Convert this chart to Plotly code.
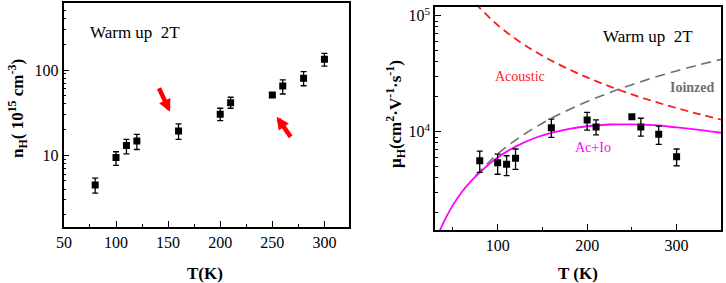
import plotly.graph_objects as go
import math

# ---------------- data ----------------
# left panel: Hall carrier density
T_n = [80, 100, 110, 120, 160, 200, 210, 250, 260, 280, 300]
n_H = [4.5, 9.4, 13.0, 14.7, 19.3, 30.3, 41.4, 50.9, 64.9, 80.0, 133.5]
n_err_plus = [0.9, 1.6, 2.4, 2.9, 4.0, 5.3, 6.5, 2.0, 11.5, 15.5, 23.5]
n_err_minus = [0.9, 1.8, 2.6, 3.0, 3.9, 4.8, 5.8, 2.0, 12.6, 14.6, 22.5]

# right panel: Hall mobility
T_mu = [80, 100, 110, 120, 160, 200, 210, 250, 260, 280, 300]
mu_H = [5620, 5400, 5240, 5900, 10800, 12600, 11000, 13500, 11000, 9500, 6100]
mu_err_plus = [1200, 1020, 970, 1200, 2050, 2100, 1640, 300, 2070, 1700, 1000]
mu_err_minus = [1150, 1100, 1060, 1160, 1850, 2260, 1610, 300, 1820, 1720, 1010]

# model curves
T_ac = [75, 100, 125, 150, 175, 200, 225, 250, 275, 300, 325, 350]
mu_ac = [128000, 83000, 59500, 45200, 35900, 29400, 24600, 21000, 18200, 16000, 14200, 12700]

T_io = [75, 90, 100, 125, 150, 175, 200, 225, 250, 275, 300, 325, 350]
mu_io = [4150, 5450, 6450, 9000, 11850, 14900, 18200, 21700, 25450, 29400, 33450, 37700, 42150]

T_tot = [35, 40, 50, 60, 70, 80, 90, 100, 120, 140, 160, 180, 200, 225, 250, 275, 300, 325, 350]
mu_tot = [1380, 1680, 2330, 3020, 3740, 4450, 5220, 6000, 7450, 8750, 9800, 10600, 11150,
          11550, 11580, 11400, 10900, 10380, 9800]

# arrows in left panel (tail -> head), data units
arrow_tail_T = [140.6, 268.6]
arrow_tail_n = [63.7, 15.8]
arrow_head_T = [151.8, 254.2]
arrow_head_n = [32.4, 28.3]

# tick labels
left_y_ticks = [10, 100]
left_y_ticktext = ["10", "100"]
right_y_ticks = [1e4, 1e5]
right_y_ticktext = ["10<sup>4</sup>", "10<sup>5</sup>"]

FONT = "Liberation Serif"

fig = go.Figure()

# left panel markers
fig.add_trace(go.Scatter(
    x=T_n, y=n_H, mode="markers", xaxis="x", yaxis="y",
    marker=dict(symbol="square", size=7, color="black"),
    error_y=dict(type="data", symmetric=False, array=n_err_plus, arrayminus=n_err_minus,
                 color="black", thickness=1.3, width=3),
    showlegend=False))

# right panel curves
fig.add_trace(go.Scatter(x=T_ac, y=mu_ac, mode="lines", xaxis="x2", yaxis="y2",
                         line=dict(color="#ff1a1a", width=1.8, dash="8px,5px", shape="spline"),
                         showlegend=False))
fig.add_trace(go.Scatter(x=T_io, y=mu_io, mode="lines", xaxis="x2", yaxis="y2",
                         line=dict(color="#707070", width=1.6, dash="10px,6px", shape="spline"),
                         showlegend=False))
fig.add_trace(go.Scatter(x=T_tot, y=mu_tot, mode="lines", xaxis="x2", yaxis="y2",
                         line=dict(color="#ff00ff", width=1.8, shape="spline"),
                         showlegend=False))
fig.add_trace(go.Scatter(
    x=T_mu, y=mu_H, mode="markers", xaxis="x2", yaxis="y2",
    marker=dict(symbol="square", size=7, color="black"),
    error_y=dict(type="data", symmetric=False, array=mu_err_plus, arrayminus=mu_err_minus,
                 color="black", thickness=1.3, width=3),
    showlegend=False))

W, H = 726, 283

axis_common = dict(showline=True, linecolor="black", linewidth=1.5, mirror=True,
                   ticks="inside", ticklen=6, tickwidth=1.3, tickcolor="black",
                   showgrid=False, zeroline=False, automargin=False,
                   tickfont=dict(family=FONT, size=16, color="black"))

left_minor = [d * 10 ** k for k in range(0, 3) for d in range(2, 10)]
right_minor = [d * 10 ** k for k in range(3, 5) for d in range(2, 10)]

fig.update_layout(
    width=W, height=H, margin=dict(l=0, r=0, t=0, b=0, pad=0),
    paper_bgcolor="white", plot_bgcolor="white",
    xaxis=dict(axis_common, domain=[63.5 / W, 348.5 / W], range=[49.6, 323.1],
               tick0=0, dtick=50, anchor="y",
               minor=dict(ticks="inside", ticklen=3, tickwidth=1.2, tickcolor="black", tick0=25, dtick=50)),
    yaxis=dict(axis_common, domain=[1 - 227 / H, 1 - 3.3 / H], type="log", range=[0.1594, 2.782],
               tickmode="array", tickvals=left_y_ticks, ticktext=left_y_ticktext, anchor="x",
               minor=dict(ticks="inside", ticklen=3, tickwidth=1.2, tickcolor="black",
                          tickmode="array", tickvals=left_minor)),
    xaxis2=dict(axis_common, domain=[435 / W, 721 / W], range=[30, 349.6],
                tick0=0, dtick=100, anchor="y2",
                minor=dict(ticks="inside", ticklen=3, tickwidth=1.2, tickcolor="black", tick0=50, dtick=100)),
    yaxis2=dict(axis_common, domain=[1 - 230 / H, 1 - 6.7 / H], type="log", range=[3.153, 5.078],
                tickmode="array", tickvals=right_y_ticks, ticktext=right_y_ticktext, anchor="x2",
                minor=dict(ticks="inside", ticklen=3, tickwidth=1.2, tickcolor="black",
                           tickmode="array", tickvals=right_minor)),
)


def label(text, px, py, size, color="black", angle=0):
    return dict(text=text, x=px / W, y=1 - py / H, xref="paper", yref="paper",
                xanchor="center", yanchor="middle", textangle=angle, showarrow=False,
                font=dict(family=FONT, size=size, color=color))


ann = [
    label("<b>T(K)</b>", 205, 273, 17),
    label("<b>T (K)</b>", 578, 273, 17),
    label("<b>n<sub>H</sub>( 10<sup>15</sup> cm<sup>-3</sup>)</b>", 17, 109, 17, angle=-90),
    label("<b>μ<sub>H</sub>(cm<sup>2</sup>·V<sup>-1</sup>·s<sup>-1</sup>)</b>", 395, 114, 17, angle=-90),
    label("Warm up\u00a0 2T", 135, 33, 17),
    label("Warm up\u00a0 2T", 648, 36.7, 17),
    label("Acoustic", 520, 76, 14, "#ff1a1a"),
    label("<b>Ioinzed</b>", 692, 87.7, 14, "#707070"),
    label("Ac+Io", 593, 147.7, 14, "#ff00ff"),
]
# arrows
for tx, tn, hx, hn in zip(arrow_tail_T, arrow_tail_n, arrow_head_T, arrow_head_n):
    ann.append(dict(x=hx, y=math.log10(hn), ax=tx, ay=math.log10(tn), xref="x", yref="y",
                    axref="x", ayref="y", text="", showarrow=True, arrowhead=2,
                    arrowsize=0.55, arrowwidth=4.5, arrowcolor="#ff0000", standoff=0))

fig.update_layout(annotations=ann)

fig.write_html("out.html", config={"displayModeBar": False},
               post_script="document.body.style.margin='0';document.body.style.padding='0';")
